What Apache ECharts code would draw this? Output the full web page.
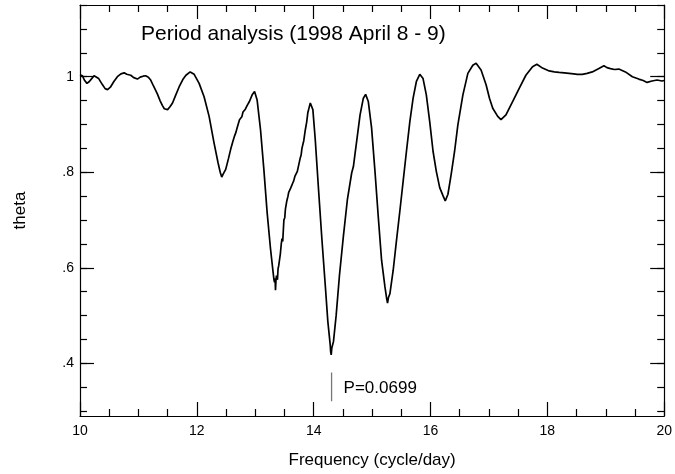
<!DOCTYPE html>
<html>
<head>
<meta charset="utf-8">
<script src="https://cdn.jsdelivr.net/npm/echarts@6/dist/echarts.min.js"></script>
<style>
html,body{margin:0;padding:0;background:#fff;}
#chart{width:675px;height:474px;}
</style>
</head>
<body>
<div id="chart"></div>
<script>
// ---- data: [frequency, theta] ----
const thetaCurve = [
[10.000,1.004],[10.040,1.002],[10.080,0.992],[10.119,0.986],[10.160,0.990],[10.200,0.996],[10.240,1.002],[10.273,1.003],
[10.320,0.996],[10.380,0.984],[10.430,0.975],[10.472,0.973],[10.520,0.978],[10.580,0.990],[10.640,1.000],[10.700,1.006],
[10.756,1.008],[10.800,1.005],[10.869,1.003],[10.920,0.998],[10.983,0.995],[11.030,0.999],[11.080,1.001],[11.124,1.002],
[11.170,0.999],[11.210,0.993],[11.260,0.980],[11.324,0.964],[11.370,0.950],[11.409,0.940],[11.443,0.933],[11.470,0.936],
[11.499,0.931],[11.540,0.937],[11.584,0.945],[11.640,0.962],[11.698,0.979],[11.760,0.994],[11.813,1.003],[11.886,1.010],
[11.954,1.005],[12.039,0.986],[12.124,0.958],[12.210,0.917],[12.295,0.861],[12.363,0.820],[12.400,0.800],[12.426,0.790],
[12.450,0.796],[12.494,0.806],[12.540,0.828],[12.579,0.848],[12.620,0.866],[12.640,0.874],[12.655,0.870],[12.670,0.884],
[12.690,0.893],[12.710,0.897],[12.730,0.910],[12.750,0.913],[12.770,0.916],[12.790,0.926],[12.800,0.925],[12.830,0.932],
[12.862,0.940],[12.880,0.938],[12.900,0.948],[12.920,0.952],[12.947,0.962],[12.965,0.960],[12.988,0.969],[13.032,0.951],
[13.090,0.889],[13.147,0.806],[13.203,0.716],[13.261,0.640],[13.305,0.591],[13.320,0.575],[13.330,0.570],[13.340,0.578],
[13.346,0.553],[13.355,0.575],[13.363,0.584],[13.380,0.575],[13.390,0.598],[13.402,0.605],[13.430,0.630],[13.445,0.650],
[13.458,0.661],[13.470,0.655],[13.490,0.700],[13.505,0.705],[13.516,0.723],[13.540,0.740],[13.560,0.750],[13.572,0.758],
[13.600,0.765],[13.620,0.771],[13.640,0.777],[13.658,0.782],[13.680,0.792],[13.700,0.795],[13.720,0.802],[13.743,0.806],
[13.770,0.830],[13.785,0.836],[13.799,0.850],[13.830,0.866],[13.857,0.889],[13.880,0.905],[13.900,0.925],[13.913,0.931],
[13.942,0.945],[13.986,0.931],[14.027,0.868],[14.083,0.764],[14.140,0.661],[14.198,0.564],[14.242,0.488],[14.283,0.439],
[14.290,0.425],[14.300,0.418],[14.310,0.432],[14.320,0.428],[14.339,0.446],[14.385,0.501],[14.441,0.584],[14.509,0.667],
[14.578,0.744],[14.651,0.799],[14.680,0.812],[14.709,0.840],[14.736,0.865],[14.794,0.920],[14.850,0.955],[14.889,0.963],
[14.935,0.948],[14.991,0.893],[15.049,0.802],[15.106,0.706],[15.162,0.616],[15.220,0.560],[15.250,0.535],[15.264,0.526],
[15.280,0.538],[15.305,0.546],[15.361,0.595],[15.417,0.657],[15.475,0.719],[15.532,0.782],[15.588,0.844],[15.646,0.906],
[15.702,0.955],[15.758,0.990],[15.816,1.005],[15.872,0.996],[15.928,0.962],[15.986,0.906],[16.043,0.844],[16.099,0.802],
[16.157,0.768],[16.213,0.751],[16.252,0.740],[16.298,0.754],[16.354,0.796],[16.412,0.844],[16.468,0.899],[16.554,0.962],
[16.639,1.007],[16.724,1.024],[16.780,1.028],[16.865,1.014],[16.951,0.983],[17.009,0.955],[17.065,0.934],[17.150,0.917],
[17.206,0.910],[17.291,0.920],[17.405,0.948],[17.520,0.976],[17.632,1.003],[17.746,1.021],[17.820,1.026],[17.917,1.018],
[18.031,1.012],[18.120,1.010],[18.201,1.009],[18.290,1.008],[18.371,1.007],[18.450,1.006],[18.513,1.005],[18.598,1.005],
[18.680,1.007],[18.769,1.010],[18.882,1.017],[18.968,1.023],[19.020,1.019],[19.080,1.017],[19.150,1.015],[19.223,1.016],
[19.336,1.010],[19.455,1.000],[19.564,0.995],[19.640,0.992],[19.706,0.988],[19.792,0.991],[19.877,0.993],[19.963,0.991],
[20.000,0.992]
];
const markerPeriod = 0.0699;
const markerFreq = 1 / markerPeriod;
const markerTheta = [0.381, 0.321];
const markerLabelTheta = 0.347;
const markerLabel = 'P=0.0699';
const titleText = 'Period analysis (1998 April 8 - 9)';
const xName = 'Frequency (cycle/day)';
const yName = 'theta';
const yMajorTicks = [0.4, 0.6, 0.8, 1.0];
const yMajorLabels = ['.4', '.6', '.8', '1'];
const yMinorTicks = [0.3,0.35,0.4,0.45,0.5,0.55,0.6,0.65,0.7,0.75,0.8,0.85,0.9,0.95,1.0,1.05,1.1,1.15];

// ---- chart ----
const FONT = '"Liberation Sans", Arial, Helvetica, sans-serif';
const LW = 1.2;
const line = {color:'#000', width:LW};

function xAx(pos, labels) {
  return {
    type:'value', position:pos, min:10, max:20, interval:2, gridIndex:0,
    axisLine:{show:true, onZero:false, lineStyle:line},
    axisTick:{show:true, inside:true, length:14, lineStyle:line},
    minorTick:{show:true, splitNumber:4, length:7, lineStyle:line},
    splitLine:{show:false}, minorSplitLine:{show:false},
    axisLabel:{show:labels, fontSize:14, color:'#000', margin:8, fontFamily:FONT},
    name: labels ? xName : '', nameLocation:'middle', nameGap:36,
    nameTextStyle:{fontSize:17, color:'#000', fontFamily:FONT}
  };
}
function yAx(pos, major, labels) {
  const ticks = major ? yMajorTicks : yMinorTicks;
  return {
    type:'value', position:pos, min:0.29, max:1.15, gridIndex:0,
    axisLine:{show:major, onZero:false, lineStyle:line},
    axisTick:{show:true, inside:true, length: major ? 14 : 7, lineStyle:line, customValues:ticks},
    splitLine:{show:false},
    axisLabel:{show:labels, customValues:yMajorTicks, fontSize:14, color:'#000', margin:6, fontFamily:FONT,
      formatter:(v) => { const k = yMajorTicks.findIndex(t => Math.abs(t - v) < 1e-6); return k >= 0 ? yMajorLabels[k] : ''; }},
    name: labels ? yName : '', nameLocation:'middle', nameGap:51,
    nameTextStyle:{fontSize:17, color:'#000', fontFamily:FONT}
  };
}

const chart = echarts.init(document.getElementById('chart'), null, {renderer:'canvas'});
chart.setOption({
  animation:false,
  backgroundColor:'#fff',
  title:{text:titleText, left:141, top:24, padding:0,
    textStyle:{fontSize:21, fontWeight:'normal', color:'#000', fontFamily:FONT}},
  grid:{left:80, right:8, top:5, bottom:56, containLabel:false},
  xAxis:[xAx('bottom', true), xAx('top', false)],
  yAxis:[yAx('left', true, true), yAx('left', false, false), yAx('right', true, false), yAx('right', false, false)],
  series:[
    {type:'line', xAxisIndex:0, yAxisIndex:0, data:thetaCurve, showSymbol:false, symbol:'none',
      lineStyle:{color:'#000', width:1.7}, silent:true},
    {type:'line', xAxisIndex:0, yAxisIndex:0, data:[[markerFreq, markerTheta[0]], [markerFreq, markerTheta[1]]],
      showSymbol:false, symbol:'none', lineStyle:{color:'#777', width:1.3}, silent:true},
    {type:'scatter', xAxisIndex:0, yAxisIndex:0, data:[[markerFreq, markerLabelTheta]], symbolSize:0, silent:true,
      itemStyle:{color:'#000', opacity:1},
      label:{show:true, position:'right', distance:12, formatter:markerLabel, fontSize:17, color:'#000', fontFamily:FONT}}
  ]
});
</script>
</body>
</html>
